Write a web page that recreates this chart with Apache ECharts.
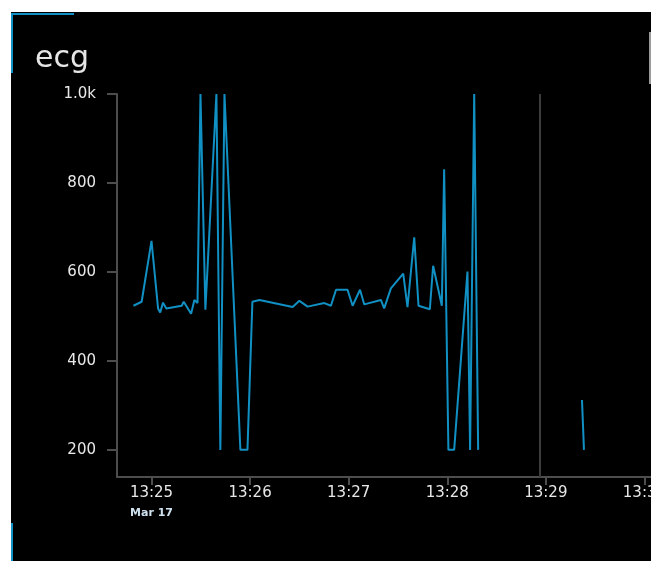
<!DOCTYPE html>
<html>
<head>
<meta charset="utf-8">
<script src="https://cdn.jsdelivr.net/npm/echarts@6/dist/echarts.min.js"></script>
<style>
html,body{margin:0;padding:0;background:#fff;}
#c{width:651px;height:561px;}
</style>
</head>
<body>
<div id="c"></div>
<script>
// ---- data ----
var title = "ecg";
var dateLabel = "Mar 17";
var times = ["13:24:49","13:24:54","13:25:00","13:25:04","13:25:05.3","13:25:07","13:25:09","13:25:18.4","13:25:19.6","13:25:24.1","13:25:26.1","13:25:28","13:25:29.8","13:25:32.8","13:25:39.5","13:25:41.9","13:25:44.4","13:25:54.1","13:25:58.4","13:26:01.4","13:26:05.7","13:26:25.9","13:26:30","13:26:35","13:26:45.2","13:26:49.2","13:26:52.3","13:26:59.3","13:27:02.4","13:27:06.9","13:27:09.5","13:27:19.6","13:27:21.6","13:27:25.7","13:27:33.2","13:27:35.8","13:27:39.9","13:27:42.5","13:27:49.4","13:27:51.4","13:27:56.7","13:27:58.1","13:28:00.7","13:28:04.2","13:28:12.3","13:28:13.9","13:28:16.4","13:28:18.8","13:28:40","13:29:22","13:29:23.2"];
var ecgValues = [524,533,670,518,509,531,518,524,533,506,537,530,1000,515,1000,200,1000,200,200,533,537,521,535,522,530,524,560,560,524,560,527,537,518,563,596,521,678,524,516,614,524,831,200,200,601,200,1000,200,null,312,200];
var yTicks = [200,400,600,800,1000];
var xTickTimes = ["13:25","13:26","13:27","13:28","13:29","13:30"];
var markerTime = "13:28:56";
var xMinTime = "13:24:39", xMaxTime = "13:30:04";
var yMin = 139, yMax = 1000;

// seconds relative to 13:25:00
function toSec(s){
  var p = s.split(':');
  var h = +p[0], m = +p[1], sec = p.length > 2 ? parseFloat(p[2]) : 0;
  return (h*3600 + m*60 + sec) - (13*3600 + 25*60);
}
function fmt(v){
  var tot = Math.round(v) + 13*3600 + 25*60;
  var h = Math.floor(tot/3600), m = Math.floor((tot%3600)/60);
  return h + ':' + (m<10?'0':'') + m;
}
var seriesData = times.map(function(t,i){ return [toSec(t), ecgValues[i]]; });
var xTicks = xTickTimes.map(toSec);

var axisColor = '#4d4d4d';
var labelColor = '#e8e8e8';
var lineColor = '#1190c4';
var FONT = '"DejaVu Sans", sans-serif';

var chart = echarts.init(document.getElementById('c'), null, {renderer:'canvas'});
chart.setOption({
  backgroundColor: '#ffffff',
  animation: false,
  graphic: [
    {type:'rect', z:-10, shape:{x:11,y:12,width:640,height:549}, style:{fill:'#000'}},
    {type:'rect', shape:{x:11,y:13,width:63,height:2}, style:{fill:lineColor}},
    {type:'rect', shape:{x:11,y:13,width:2,height:60}, style:{fill:lineColor}},
    {type:'rect', shape:{x:11,y:523,width:2,height:38}, style:{fill:lineColor}},
    {type:'rect', shape:{x:649,y:32,width:2,height:52}, style:{fill:'#9a9a9a'}},
    {type:'text', left:35, top:44, style:{text:title, fill:'#e6e6e6', font:'30px "DejaVu Sans", sans-serif'}}
  ],
  grid: {left:117, top:94, right:0, bottom:84, containLabel:false, outerBoundsMode:'none'},
  xAxis: {
    type:'value', min: toSec(xMinTime), max: toSec(xMaxTime),
    splitLine:{show:false},
    axisLine:{show:true, onZero:false, lineStyle:{color:axisColor, width:2}},
    axisTick:{show:true, length:8, lineStyle:{color:axisColor, width:2}, customValues: xTicks},
    axisLabel:{
      customValues: xTicks, margin:7, color:labelColor, hideOverlap:false,
      fontFamily:FONT, fontSize:15,
      formatter:function(v){
        if (Math.abs(v) < 0.5) return '{t|' + fmt(v) + '}\n{d|' + dateLabel + '}';
        return '{t|' + fmt(v) + '}';
      },
      rich:{
        t:{color:labelColor, fontSize:15, fontFamily:FONT, lineHeight:18},
        d:{color:'#cfe2f0', fontSize:11, fontWeight:'bold', fontFamily:FONT, lineHeight:22, align:'center'}
      }
    }
  },
  yAxis: {
    type:'value', min:yMin, max:yMax,
    splitLine:{show:false},
    axisLine:{show:true, onZero:false, lineStyle:{color:axisColor, width:2}},
    axisTick:{show:true, length:10, lineStyle:{color:axisColor, width:2}, customValues: yTicks},
    axisLabel:{
      customValues: yTicks, margin:21, color:labelColor,
      fontFamily:FONT, fontSize:15,
      formatter:function(v){ return v >= 1000 ? (v/1000).toFixed(1)+'k' : String(v); }
    }
  },
  series: [{
    type:'line', data: seriesData, showSymbol:false, connectNulls:false,
    lineStyle:{color:lineColor, width:2}, itemStyle:{color:lineColor},
    clip:true,
    markLine:{
      silent:true, symbol:['none','none'], label:{show:false},
      lineStyle:{color:'#3c3c3c', type:'solid', width:2},
      data:[{xAxis: toSec(markerTime)}]
    }
  }]
});
</script>
</body>
</html>
